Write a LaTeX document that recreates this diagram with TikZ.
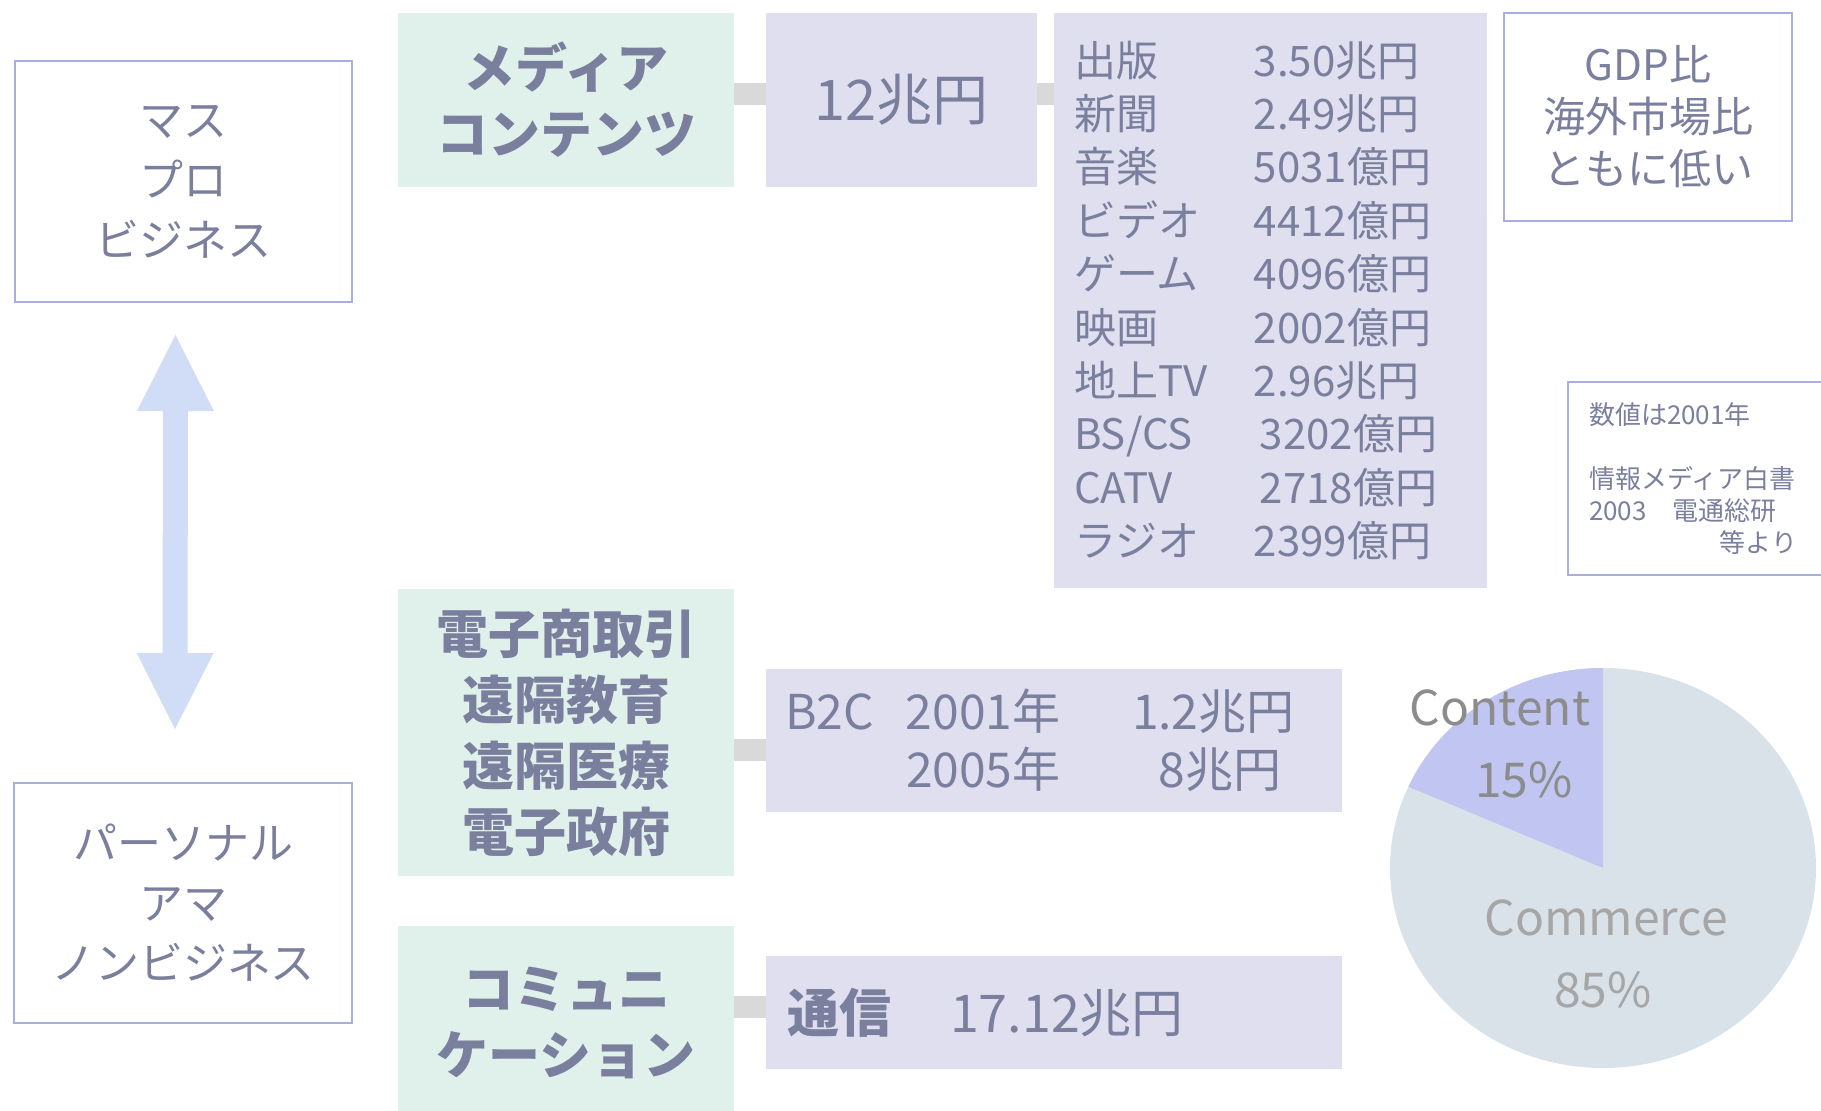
\documentclass[tikz,border=0pt]{standalone}
\usepackage{fontspec}
\setmainfont{Noto Sans CJK JP}
\usetikzlibrary{arrows.meta}

\definecolor{ink}{HTML}{7A7F9E}
\definecolor{mint}{HTML}{E0F1EC}
\definecolor{lavender}{HTML}{DFDFEF}
\definecolor{rimblue}{HTML}{A8AEDF}
\definecolor{arrowblue}{HTML}{D1DDF7}
\definecolor{linkgray}{HTML}{D9D9D9}
\definecolor{piegray}{HTML}{D9E2E8}
\definecolor{piewedge}{HTML}{C0C6F1}
\definecolor{pieink}{HTML}{8C8C8C}
\definecolor{pieinklight}{HTML}{A6A6A6}

\tikzset{
  outlinebox/.style={draw=rimblue, line width=1pt, text=ink, align=center, inner sep=0pt,
    font=\fontsize{22pt}{30pt}\selectfont},
  headbox/.style={fill=mint, text=ink, align=center, inner sep=0pt,
    font=\fontsize{26pt}{33pt}\selectfont\bfseries},
  valbox/.style={fill=lavender, text=ink, inner sep=0pt},
  conn/.style={linkgray, line width=11pt},
  updown/.style={arrowblue, line width=12.5pt,
    {Triangle[width=38.5pt,length=38pt,line width=0pt]}-{Triangle[width=38.5pt,length=38pt,line width=0pt]}},
  pielabel/.style={font=\fontsize{24pt}{28pt}\selectfont}
}

\begin{document}
\begin{tikzpicture}[x=0.5pt,y=-0.5pt]
\useasboundingbox (0,0) rectangle (1821,1111);
\clip (0,0) rectangle (1821,1111);
% Left column: the two kinds of business
\node[outlinebox, minimum width=168.5pt, minimum height=120.5pt] (mass) at (183.5,181.5) {マス\\プロ\\ビジネス};
\node[outlinebox, minimum width=169pt, minimum height=120pt] (personal) at (183,903) {パーソナル\\アマ\\ノンビジネス};
\draw[updown] ([xshift=-4pt,yshift=-16pt]mass.south) -- ([xshift=-4pt,yshift=26.5pt]personal.north);
% Media contents row
\node[headbox, minimum width=168pt, minimum height=87pt] (media) at (566,100) {メディア\\コンテンツ};
\node[valbox, minimum width=135.5pt, minimum height=87pt, font=\fontsize{28pt}{32pt}\selectfont] (yen) at (901.5,100) {12兆円};
\node[valbox, minimum width=216.5pt, minimum height=287.5pt, text width=196.5pt, inner xsep=10pt, align=left,
  font=\fontsize{21pt}{26.7pt}\selectfont] (list) at (1270.5,300.5)
  {\makebox[90pt][l]{出版}3.50兆円\\
   \makebox[90pt][l]{新聞}2.49兆円\\
   \makebox[90pt][l]{音楽}5031億円\\
   \makebox[90pt][l]{ビデオ}4412億円\\
   \makebox[90pt][l]{ゲーム}4096億円\\
   \makebox[90pt][l]{映画}2002億円\\
   \makebox[90pt][l]{地上TV}2.96兆円\\
   \makebox[93pt][l]{BS/CS}3202億円\\
   \makebox[93pt][l]{CATV}2718億円\\
   \makebox[90pt][l]{ラジオ}2399億円};
\draw[conn] ([yshift=3pt]media.east) -- ([yshift=3pt]yen.west);
\draw[conn] ([yshift=3pt]yen.east) -- ([yshift=3pt]yen.east -| list.west);
\node[outlinebox, minimum width=144pt, minimum height=104pt, font=\fontsize{21pt}{26pt}\selectfont] (gdp) at (1648,117) {GDP比\\海外市場比\\ともに低い};
\node[outlinebox, minimum width=136pt, minimum height=96.5pt, text width=115pt, inner xsep=10.5pt, align=left,
  font=\fontsize{13pt}{16pt}\selectfont] (note) at (1704,478.5)
  {数値は2001年\\[16pt]
   情報メディア白書\\
   2003　電通総研\\
   \makebox[104pt][r]{等より}};
% Commerce row
\node[headbox, minimum width=168pt, minimum height=143.5pt] (ec) at (566,732.5) {電子商取引\\遠隔教育\\遠隔医療\\電子政府};
\node[valbox, minimum width=288pt, minimum height=71.5pt, text width=269pt, inner xsep=9.5pt, align=left,
  font=\fontsize{24pt}{29pt}\selectfont] (b2c) at (1054,740.5)
  {\makebox[60.5pt][l]{B2C}\makebox[113pt][l]{2001年}1.2兆円\\
   \hspace*{60.5pt}\makebox[126.5pt][l]{2005年}8兆円};
\draw[conn] ([yshift=-5pt]b2c.west) -- ([yshift=-5pt]b2c.west -| ec.east);
% Communication row
\node[headbox, minimum width=168pt, minimum height=97pt] (comm) at (566,1023) {コミュニ\\ケーション};
\node[valbox, minimum width=288pt, minimum height=56.5pt, text width=267pt, inner xsep=10.5pt, align=left,
  font=\fontsize{26pt}{30pt}\selectfont] (tsushin) at (1054,1012.5)
  {\makebox[81.5pt][l]{\bfseries 通信}17.12兆円};
\draw[conn] ([yshift=3pt]tsushin.west) -- ([yshift=3pt]tsushin.west -| comm.east);
% Pie: content vs commerce
\coordinate (pie) at (1603,868);
\fill[piegray] (pie) ellipse[x radius=106.5pt, y radius=100pt];
\fill[piewedge] (pie) -- ++(90:100pt) arc[start angle=90, end angle=156, x radius=106.5pt, y radius=100pt] -- cycle;
\node[pielabel, text=pieink] (content) at (1500,708) {Content};
\node[pielabel, text=pieink] (contentpct) at (1524,780) {15\%};
\node[pielabel, text=pieinklight] (commerce) at (1606,918) {Commerce};
\node[pielabel, text=pieinklight] (commercepct) at (1603,990) {85\%};
\end{tikzpicture}
\end{document}
